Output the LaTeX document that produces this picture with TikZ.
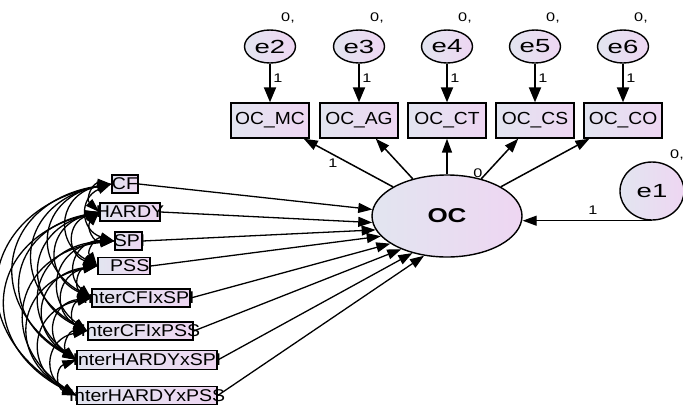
\documentclass[tikz,border=0pt]{standalone}
\usepackage{fontspec}
\setmainfont{Liberation Sans}
\usetikzlibrary{arrows.meta,shapes.geometric,calc}
\definecolor{ca}{RGB}{226,229,240}
\definecolor{cb}{RGB}{238,214,242}
\newcommand{\hx}[2]{\scalebox{#1}[1]{#2}}
\newcommand{\lft}[1]{\makebox[0pt]{\fontsize{17}{17}\selectfont\hx{1.15}{#1}}}
\newcommand{\topl}[1]{\fontsize{17.5}{17.5}\selectfont\hx{1.1}{#1}}
\newcommand{\el}[1]{\fontsize{19}{19}\selectfont\hx{1.45}{#1}}
\begin{document}
\begin{tikzpicture}[x=1pt,y=-1pt,
  >={Triangle[length=14pt,width=10pt]},
  lat/.style={ellipse, draw, line width=1.4pt, left color=ca, right color=cb, inner sep=0pt},
  obs/.style={rectangle, draw, line width=1.4pt, left color=ca, right color=cb, inner sep=0pt},
  pth/.style={line width=1.5pt, ->},
  cov/.style={line width=1.3pt, {Triangle[length=14pt,width=9pt]}-{Triangle[length=14pt,width=9pt]}},
  sm/.style={font=\fontsize{12.5}{12.5}\selectfont, inner sep=0pt}]
\useasboundingbox (0,0) rectangle (683,405);
\clip (0,0) rectangle (683,405);
% latent / error variables
\node[lat, minimum width=150, minimum height=82] (oc) at (447,216) {\fontsize{20}{20}\selectfont\hx{1.3}{\textbf{OC}}};
\node[lat, minimum width=64, minimum height=58] (e1) at (652,191) {\el{e1}};
\foreach \n/\x in {2/270,3/359,4/447,5/535,6/623}{
  \node[lat, minimum width=51, minimum height=33] (e\n) at (\x,46.5) {\el{e\n}};
  \node[sm] (z\n) at (\x+18,18) {\hx{1.3}{0,}};
}
\node[sm] (z1) at (677,155) {\hx{1.3}{0,}};
% indicators
\node[obs, minimum width=78, minimum height=35] (ocmc) at (270,120.5) {\topl{OC\_MC}};
\node[obs, minimum width=78, minimum height=35] (ocag) at (359,120.5) {\topl{OC\_AG}};
\node[obs, minimum width=78, minimum height=35] (occt) at (447,120.5) {\topl{OC\_CT}};
\node[obs, minimum width=78, minimum height=35] (occs) at (535,120.5) {\topl{OC\_CS}};
\node[obs, minimum width=78, minimum height=35] (occo) at (623,120.5) {\topl{OC\_CO}};
% predictors
\node[obs, minimum width=26, minimum height=18] (cf) at (125,184) {\lft{CF}};
\node[obs, minimum width=60, minimum height=18] (hardy) at (130,212) {\lft{HARDY}};
\node[obs, minimum width=27, minimum height=18] (sp) at (128.5,241) {\lft{\hspace{2pt}SPI}};
\node[obs, minimum width=52, minimum height=17] (pss) at (124,266) {\lft{\hspace{10pt}PSS}};
\node[obs, minimum width=98, minimum height=18] (icfsp) at (141,298) {\lft{InterCFIxSPI\hspace{4pt}}};
\node[obs, minimum width=105, minimum height=18] (icfpss) at (140.5,331) {\lft{InterCFIxPSS}};
\node[obs, minimum width=140, minimum height=19] (ihsp) at (147,360) {\lft{InterHARDYxSPI}};
\node[obs, minimum width=140, minimum height=18] (ihpss) at (147,395.5) {\lft{InterHARDYxPSS}};
% error arrows
\foreach \n/\b in {2/ocmc,3/ocag,4/occt,5/occs,6/occo}{
  \draw[line width=2pt, -{Triangle[length=15pt,width=12pt]}] (e\n) -- (\b);
  \node[sm] at ($(e\n.south)+(8,14)$) {\hx{1.3}{1}};
}
% loadings
\foreach \b in {ocmc,ocag,occt,occs,occo}{
  \draw[pth] (oc) -- (\b);
}
\node[sm] (l1) at (333,163) {\hx{1.3}{1}};
\node[sm] (l0) at (478,173) {\hx{1.3}{0}};
% structural paths
\foreach \v/\a in {cf/175,hardy/185,sp/191,pss/197,icfsp/206,icfpss/216,ihsp/227,ihpss/240}{
  \draw[pth, line width=1.3pt] (\v.east) -- (oc.\a);
}
\draw[pth, line width=1.3pt] (e1.south) -- (oc.east |- e1.south);
\node[sm] (lr) at (593,210) {\hx{1.3}{1}};
% covariances
\foreach \a [count=\i] in {cf,hardy,sp,pss,icfsp,icfpss,ihsp,ihpss}{
  \foreach \b [count=\j] in {cf,hardy,sp,pss,icfsp,icfpss,ihsp,ihpss}{
    \ifnum\j>\i
      \draw[cov] (\a.west) to[bend right=70, looseness=1.6] (\b.west);
    \fi
  }
}
\end{tikzpicture}
\end{document}
